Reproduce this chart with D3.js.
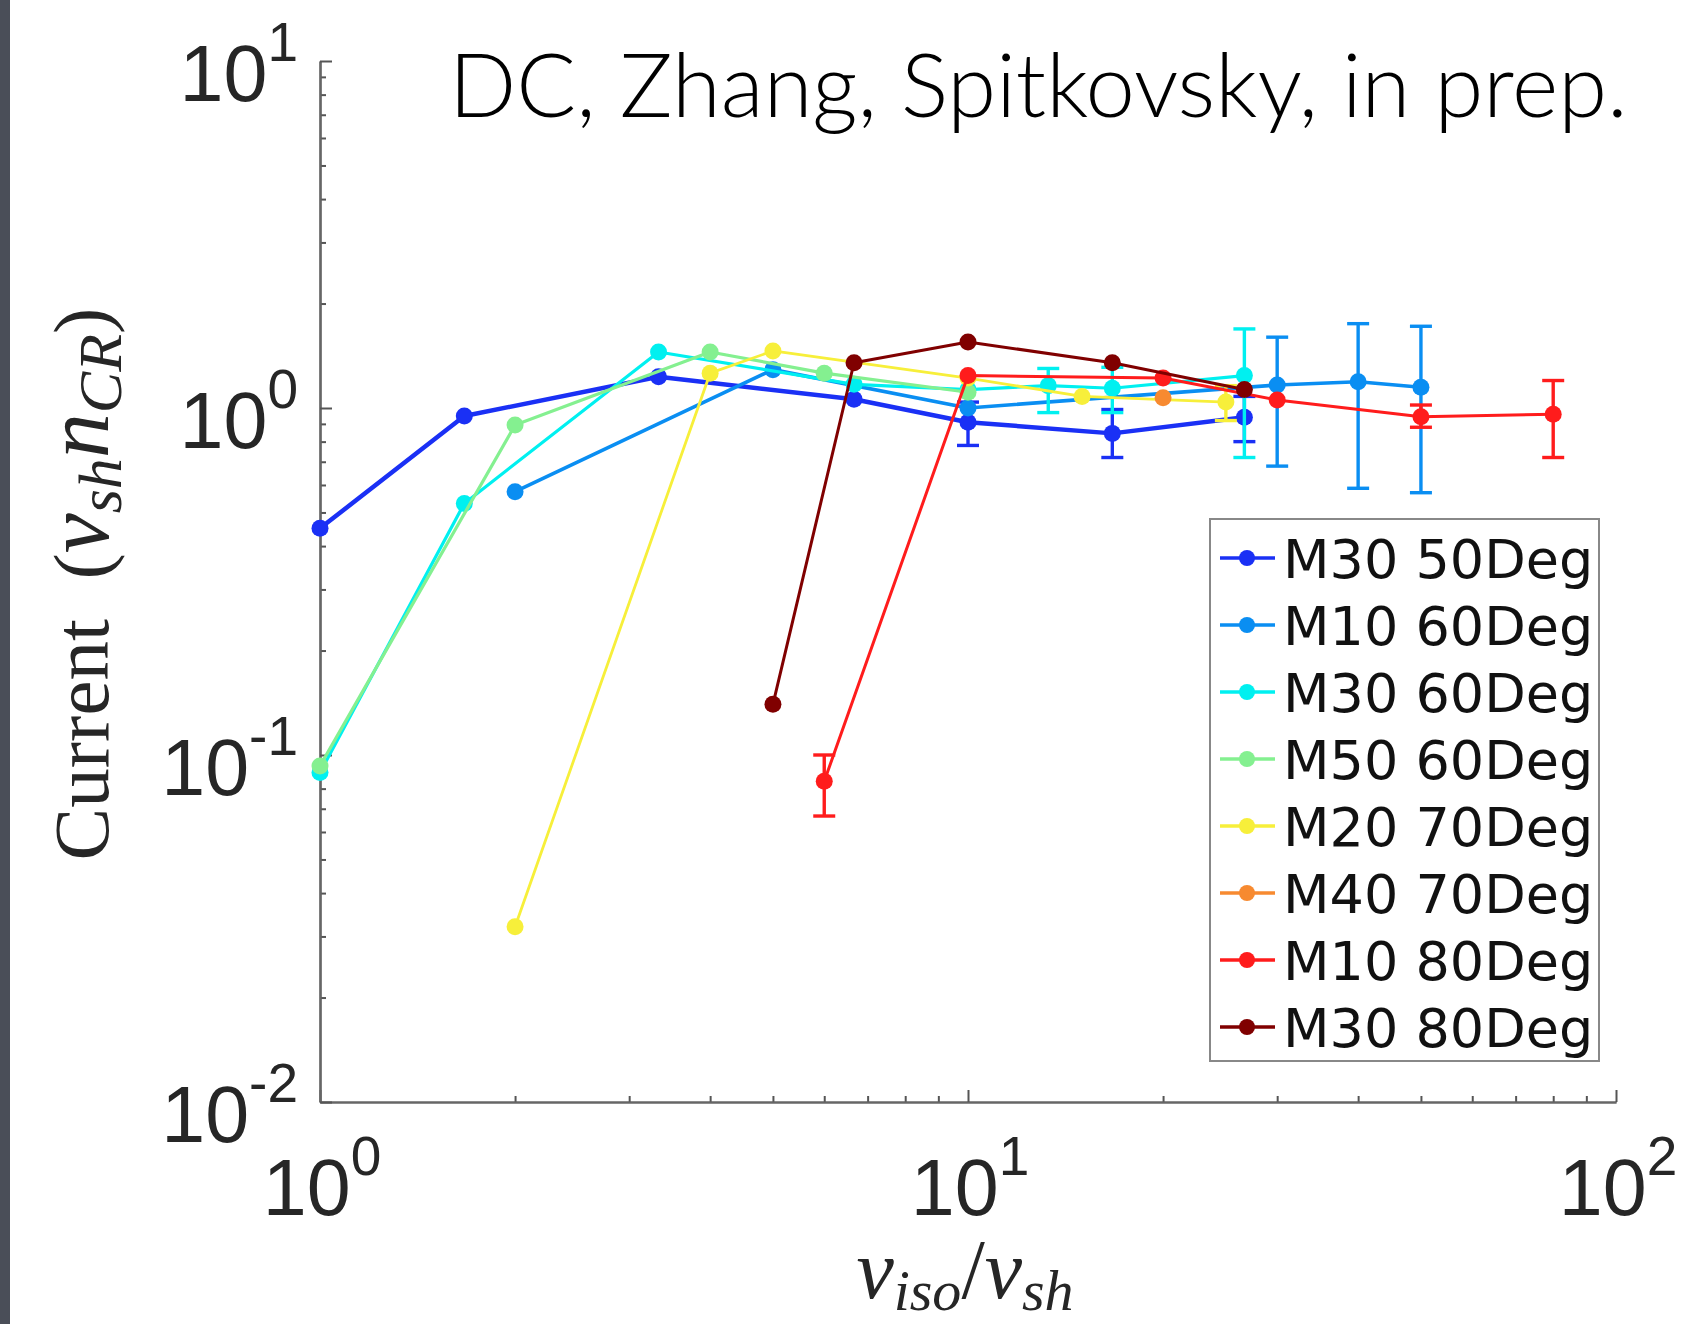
<!DOCTYPE html>
<html>
<head>
<meta charset="utf-8">
<script src="https://cdn.jsdelivr.net/npm/d3@7"></script>
<style>
  body { margin: 0; background: #fff; }
  svg { display: block; }
</style>
</head>
<body>
<svg id="chart" width="1686" height="1324"></svg>
<script>
// series, in drawing order
const names = ['M30 50Deg', 'M10 60Deg', 'M30 60Deg', 'M50 60Deg',
               'M20 70Deg', 'M40 70Deg', 'M10 80Deg', 'M30 80Deg'];
const colors = ['#1a30f5', '#0a8ef2', '#00f0f0', '#84f090',
                '#f7ef3a', '#f78a30', '#ff1c1c', '#800000'];

// M30 50Deg
const x0 = [1, 1.67, 3.33, 6.67, 10, 16.7, 26.7];
const y0 = [0.45, 0.948, 1.23, 1.06, 0.91, 0.845, 0.94];
const e0 = [[10, 0.78, 1.04], [16.7, 0.72, 0.99], [26.7, 0.80, 1.08]];
// M10 60Deg
const x1 = [2, 5, 10, 30, 40, 50];
const y1 = [0.574, 1.29, 1.0, 1.165, 1.19, 1.147];
const e1 = [[30, 0.68, 1.60], [40, 0.587, 1.75], [50, 0.57, 1.72]];
// M30 60Deg
const x2 = [1, 1.67, 3.33, 6.67, 10, 13.3, 16.7, 26.7];
const y2 = [0.089, 0.531, 1.45, 1.17, 1.13, 1.16, 1.14, 1.24];
const e2 = [[13.3, 0.97, 1.30], [16.7, 0.97, 1.31], [26.7, 0.72, 1.69]];
// M50 60Deg
const x3 = [1, 2, 4, 6, 10];
const y3 = [0.093, 0.893, 1.45, 1.26, 1.11];
const e3 = [];
// M20 70Deg
const x4 = [2, 4, 5, 10, 15, 25];
const y4 = [0.032, 1.26, 1.46, 1.22, 1.08, 1.04];
const e4 = [[25, 0.92, 1.16]];
// M40 70Deg
const x5 = [20];
const y5 = [1.07];
const e5 = [];
// M10 80Deg
const x6 = [6, 10, 20, 30, 50, 80];
const y6 = [0.084, 1.24, 1.22, 1.055, 0.944, 0.959];
const e6 = [[6, 0.0667, 0.1], [50, 0.88, 1.02], [80, 0.72, 1.20]];
// M30 80Deg
const x7 = [5, 6.67, 10, 16.7, 26.7];
const y7 = [0.14, 1.35, 1.55, 1.35, 1.13];
const e7 = [];

const xs = [x0, x1, x2, x3, x4, x5, x6, x7];
const ys = [y0, y1, y2, y3, y4, y5, y6, y7];
const errs = [e0, e1, e2, e3, e4, e5, e6, e7];
const widths = [4.5, 3.6, 3.2, 3.2, 2.8, 3, 3, 3];

const xMajor = [1, 10, 100];
const yMajor = [0.01, 0.1, 1, 10];
const xMajorLabels = ['0', '1', '2'];
const yMajorLabels = ['-2', '-1', '0', '1'];

const svg = d3.select('#chart');

// dark strip at left edge of the slide
svg.append('rect').attr('x', 0).attr('y', 0).attr('width', 10).attr('height', 1324)
    .attr('fill', '#4a4e58');

let x = d3.scaleLog().domain([1, 100]).range([320, 1616]);
let y = d3.scaleLog().domain([0.01, 10]).range([1102, 61]);

function minors(lo, hi) {
    let out = [];
    for (let d = lo; d < hi; d *= 10)
        for (let k = 2; k <= 9; k++) out.push(d * k);
    return out;
}

// axes
let gx = svg.append('g').attr('transform', 'translate(0,1102)');
gx.append('g').call(d3.axisBottom(x).tickValues(minors(1, 100)).tickSize(-6).tickSizeOuter(0).tickFormat(''));
gx.append('g').call(d3.axisBottom(x).tickValues(xMajor).tickSize(-12).tickSizeOuter(0).tickFormat(''));
let gy = svg.append('g').attr('transform', 'translate(320,0)');
gy.append('g').call(d3.axisLeft(y).tickValues(minors(0.01, 10)).tickSize(-6).tickSizeOuter(0).tickFormat(''));
gy.append('g').call(d3.axisLeft(y).tickValues(yMajor).tickSize(-12).tickSizeOuter(0).tickFormat(''));
svg.selectAll('.domain').attr('stroke', '#666').attr('stroke-width', 2.2);
svg.selectAll('.tick line').attr('stroke', '#555').attr('stroke-width', 2);

// tick labels, 10 with superscript
xMajor.forEach((v, i) => {
    let t = svg.append('text').attr('x', x(v) + 2).attr('y', 1215)
        .attr('text-anchor', 'middle').attr('font-family', 'Liberation Sans, Arial')
        .attr('font-size', 79).attr('fill', '#262626');
    t.append('tspan').text('10');
    t.append('tspan').attr('dy', -40).attr('font-size', 55).text(xMajorLabels[i]);
});
yMajor.forEach((v, i) => {
    let t = svg.append('text').attr('x', 298).attr('y', y(v) + 40)
        .attr('text-anchor', 'end').attr('font-family', 'Liberation Sans, Arial')
        .attr('font-size', 79).attr('fill', '#262626');
    t.append('tspan').text('10');
    t.append('tspan').attr('dy', -40).attr('font-size', 55).text(yMajorLabels[i]);
});

// axis titles
let xl = svg.append('text').attr('x', 965).attr('y', 1298).attr('text-anchor', 'middle')
    .attr('font-family', 'Liberation Serif, serif').attr('font-size', 84).attr('fill', '#262626');
xl.append('tspan').attr('font-style', 'italic').text('v');
xl.append('tspan').attr('font-style', 'italic').attr('font-size', 58).attr('dy', 12).text('iso');
xl.append('tspan').attr('dy', -12).text('/');
xl.append('tspan').attr('font-style', 'italic').text('v');
xl.append('tspan').attr('font-style', 'italic').attr('font-size', 58).attr('dy', 12).text('sh');

let yl = svg.append('text').attr('transform', 'translate(108,584) rotate(-90)')
    .attr('text-anchor', 'middle').attr('font-family', 'Liberation Serif, serif')
    .attr('font-size', 79).attr('fill', '#262626');
yl.append('tspan').text('Current\u2002(');
yl.append('tspan').attr('font-style', 'italic').attr('font-size', 90).text('v');
yl.append('tspan').attr('font-style', 'italic').attr('font-size', 62).attr('dy', 13).text('sh');
yl.append('tspan').attr('font-style', 'italic').attr('font-size', 90).attr('dy', -13).text('n');
yl.append('tspan').attr('font-style', 'italic').attr('font-size', 62).attr('dy', 13).text('CR');
yl.append('tspan').attr('dy', -13).text(')');

// data
let line = d3.line().x(d => x(d[0])).y(d => y(d[1]));
let plot = svg.append('g');
names.forEach((n, i) => {
    let pts = xs[i].map((v, j) => [v, ys[i][j]]);
    let g = plot.append('g');
    g.append('path').attr('d', line(pts)).attr('fill', 'none')
        .attr('stroke', colors[i]).attr('stroke-width', widths[i]).attr('stroke-linejoin', 'round');
    errs[i].forEach(e => {
        let cx = x(e[0]);
        g.append('line').attr('x1', cx).attr('x2', cx).attr('y1', y(e[1])).attr('y2', y(e[2]))
            .attr('stroke', colors[i]).attr('stroke-width', 3.4);
        [e[1], e[2]].forEach(v => {
            g.append('line').attr('x1', cx - 11).attr('x2', cx + 11).attr('y1', y(v)).attr('y2', y(v))
                .attr('stroke', colors[i]).attr('stroke-width', 3.4);
        });
    });
    g.selectAll('circle').data(pts).enter().append('circle')
        .attr('cx', d => x(d[0])).attr('cy', d => y(d[1])).attr('r', 8.5)
        .attr('fill', colors[i]);
});

// legend
let lg = svg.append('g');
lg.append('rect').attr('x', 1210).attr('y', 519).attr('width', 389).attr('height', 542)
    .attr('fill', '#fff').attr('stroke', '#888').attr('stroke-width', 2);
names.forEach((n, i) => {
    let cy = 558 + i * 67;
    lg.append('line').attr('x1', 1220).attr('x2', 1275).attr('y1', cy).attr('y2', cy)
        .attr('stroke', colors[i]).attr('stroke-width', 3.4);
    lg.append('circle').attr('cx', 1247).attr('cy', cy).attr('r', 8).attr('fill', colors[i]);
    lg.append('text').attr('x', 1283).attr('y', cy + 20).attr('font-family', 'DejaVu Sans')
        .attr('font-size', 54).attr('fill', '#111').text(n);
});

// slide annotation
let note = svg.append('text').attr('x', 449).attr('y', 117).attr('font-family', 'Lato, sans-serif')
    .attr('font-weight', 300).attr('font-size', 82).attr('fill', '#000')
    .text('DC, Zhang, Spitkovsky, in prep.');
let w = note.node().getComputedTextLength();
note.attr('font-size', 82 * 1179 / w);
</script>
</body>
</html>
